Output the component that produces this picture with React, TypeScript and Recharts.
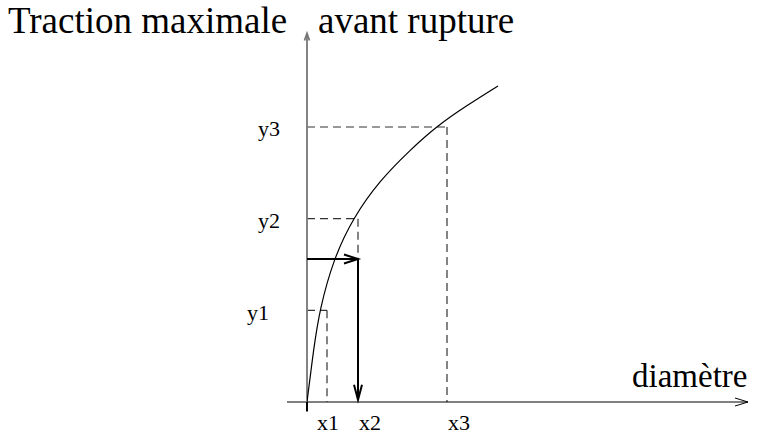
import { ComposedChart, Line, XAxis, YAxis, ReferenceLine } from 'recharts'

// curve (diameter -> max traction)
const curveX = [0, 1.63, 3.13, 6.63, 11.5, 18.25, 25.75, 32.5, 40, 47.75]
const curveY = [0, 14.2, 25.1, 39, 50.2, 60.5, 68.7, 75.3, 80.9, 86.2]

const xMarks = [5, 12.75, 35]
const xLabels = ['x1', 'x2', 'x3']
const yMarks = [25, 50, 75]
const yLabels = ['y1', 'y2', 'y3']

const arrowLevel = 39

const data = curveX.map((x, i) => ({ x, y: curveY[i] }))

const FONT = '"Liberation Serif", "Times New Roman", serif'

const arrowShape = (len: number, half: number, color: string, width: number) => (props: any) => {
  const { x1, y1, x2, y2 } = props
  const a = Math.atan2(y2 - y1, x2 - x1)
  const bx = x2 - len * Math.cos(a)
  const by = y2 - len * Math.sin(a)
  const px = -Math.sin(a) * half
  const py = Math.cos(a) * half
  return (
    <g>
      <line x1={x1} y1={y1} x2={x2} y2={y2} stroke={color} strokeWidth={width} />
      <polyline
        points={`${bx + px},${by + py} ${x2},${y2} ${bx - px},${by - py}`}
        fill="none"
        stroke={color}
        strokeWidth={width}
      />
    </g>
  )
}

const XTick = (props: any) => {
  const { x, y, payload, index } = props
  const i = index ?? xMarks.indexOf(payload.value)
  return (
    <text
      x={i === 0 ? x + 1 : x + 1}
      y={y + 28}
      textAnchor={i === 0 ? 'middle' : 'start'}
      fontFamily={FONT}
      fontSize={22}
      fill="#000"
    >
      {xLabels[i]}
    </text>
  )
}

const YTick = (props: any) => {
  const { x, y, payload, index } = props
  const i = index ?? yMarks.indexOf(payload.value)
  return (
    <text
      x={i === 0 ? x - 38 : x - 27}
      y={y + 9.5}
      textAnchor="end"
      fontFamily={FONT}
      fontSize={22}
      fill="#000"
    >
      {yLabels[i]}
    </text>
  )
}

export default function App() {
  return (
    <div style={{ position: 'absolute', left: 0, top: 0, width: 758, height: 435, background: '#fff' }}>
      <ComposedChart
        width={758}
        height={435}
        data={data}
        margin={{ top: 35.33, right: 11, bottom: 3, left: 247 }}
      >
        <XAxis
          type="number"
          dataKey="x"
          domain={[0, 110]}
          allowDataOverflow
          ticks={xMarks}
          tick={<XTick />}
          axisLine={false}
          tickLine={false}
          tickSize={0}
          tickMargin={0}
          height={30}
        />
        <YAxis
          type="number"
          domain={[0, 100]}
          allowDataOverflow
          ticks={yMarks}
          tick={<YTick />}
          axisLine={false}
          tickLine={false}
          tickSize={0}
          tickMargin={0}
          width={60}
        />

        {/* dashed guides */}
        {xMarks.map((xm, i) => (
          <ReferenceLine
            key={`h${i}`}
            segment={[{ x: 0, y: yMarks[i] }, { x: xm, y: yMarks[i] }]}
            stroke="#333"
            strokeWidth={1.2}
            strokeDasharray="8 5"
            ifOverflow="visible"
          />
        ))}
        <ReferenceLine
          segment={[{ x: xMarks[0], y: yMarks[0] }, { x: xMarks[0], y: 0 }]}
          stroke="#333"
          strokeWidth={1.2}
          strokeDasharray="8 5"
          ifOverflow="visible"
        />
        <ReferenceLine
          segment={[{ x: xMarks[1], y: yMarks[1] }, { x: xMarks[1], y: arrowLevel }]}
          stroke="#333"
          strokeWidth={1.2}
          strokeDasharray="8 5"
          ifOverflow="visible"
        />
        <ReferenceLine
          segment={[{ x: xMarks[2], y: yMarks[2] }, { x: xMarks[2], y: 0 }]}
          stroke="#333"
          strokeWidth={1.2}
          strokeDasharray="8 5"
          ifOverflow="visible"
        />

        {/* axes */}
        <ReferenceLine
          segment={[{ x: -5, y: 0 }, { x: 110.25, y: 0 }]}
          shape={arrowShape(13, 4, '#000', 1)}
          ifOverflow="visible"
        />
        <ReferenceLine
          segment={[{ x: 0, y: 0 }, { x: 0, y: 100.5 }]}
          shape={arrowShape(7, 2.5, '#777', 1.8)}
          ifOverflow="visible"
        />
        <ReferenceLine
          segment={[{ x: 0, y: 0 }, { x: 0, y: -2.6 }]}
          stroke="#000"
          strokeWidth={2}
          ifOverflow="visible"
        />

        {/* solid reading arrows */}
        <ReferenceLine
          segment={[{ x: 0, y: arrowLevel }, { x: xMarks[1], y: arrowLevel }]}
          shape={arrowShape(14, 4.5, '#000', 2)}
          ifOverflow="visible"
        />
        <ReferenceLine
          segment={[{ x: xMarks[1], y: arrowLevel }, { x: xMarks[1], y: 0.6 }]}
          shape={arrowShape(15, 4, '#000', 2)}
          ifOverflow="visible"
        />

        <Line
          type="basis"
          dataKey="y"
          stroke="#000"
          strokeWidth={1.2}
          dot={false}
          activeDot={false}
          isAnimationActive={false}
        />
      </ComposedChart>

      <svg
        width={758}
        height={435}
        style={{ position: 'absolute', left: 0, top: 0, pointerEvents: 'none' }}
      >
        <text x={8} y={33} fontFamily={FONT} fontSize={37} fill="#000">
          Traction maximale
        </text>
        <text x={318} y={33} fontFamily={FONT} fontSize={37} fill="#000">
          avant rupture
        </text>
        <text x={632} y={387} fontFamily={FONT} fontSize={33} fill="#000">
          diamètre
        </text>
      </svg>
    </div>
  )
}
